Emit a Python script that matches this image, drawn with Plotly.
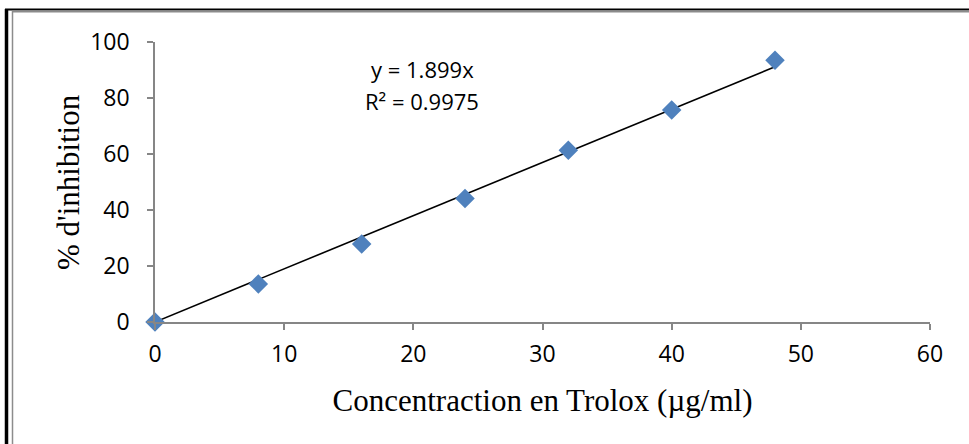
import plotly.graph_objects as go

# Trolox calibration data
concentration = [0, 8, 16, 24, 32, 40, 48]          # µg/ml
inhibition = [0, 13.6, 27.9, 44.1, 61.3, 75.7, 93.5]  # %
slope = 1.899
r_squared = 0.9975

x_ticks = [0, 10, 20, 30, 40, 50, 60]
y_ticks = [0, 20, 40, 60, 80, 100]

W, H = 969, 444
L, R, T, B = 155, 39, 42, 122

fig = go.Figure()

# linear trendline through the origin
fit_x = [0, max(concentration)]
fit_y = [slope * v for v in fit_x]
fig.add_trace(go.Scatter(x=fit_x, y=fit_y, mode="lines",
                         line=dict(color="black", width=1.6),
                         hoverinfo="skip", showlegend=False))

fig.add_trace(go.Scatter(x=concentration, y=inhibition, mode="markers",
                         marker=dict(symbol="diamond", size=15, color="#4F81BD",
                                     line=dict(width=0)),
                         cliponaxis=False, showlegend=False))

axis_font = dict(family="Open Sans, Noto Sans, sans-serif", size=23, color="black")
title_font = dict(family="Liberation Serif, Times New Roman, serif", size=31, color="black")


def px_x(p):
    return (p - L) / (W - L - R)


def px_y(p):
    return (H - B - p) / (H - T - B)


fig.update_xaxes(range=[0, 60], tickvals=x_ticks, showgrid=False, zeroline=False,
                 showline=True, linecolor="#868686", linewidth=1.5,
                 ticks="outside", ticklen=6, tickcolor="#868686", tickwidth=1.5,
                 tickfont=axis_font, ticklabelstandoff=5,
                 title=dict(text="Concentraction en Trolox (µg/ml)", font=title_font,
                            standoff=21))
fig.update_yaxes(range=[0, 100], tickvals=y_ticks, showgrid=False, zeroline=False,
                 showline=True, linecolor="#868686", linewidth=1.5,
                 ticks="outside", ticklen=6, tickcolor="#868686", tickwidth=1.5,
                 tickfont=axis_font, ticklabelstandoff=13)

# y-axis title placed as rotated text
fig.add_annotation(x=px_x(68), y=0.5, xref="paper", yref="paper", showarrow=False,
                   text="% d'inhibition", textangle=-90, font=title_font,
                   xanchor="center", yanchor="middle")

eq_font = dict(family="Open Sans, Noto Sans, sans-serif", size=22, color="black")
fig.add_annotation(x=20.7, y=90.5, xref="x", yref="y", showarrow=False,
                   text=f"y = {slope}x", font=eq_font)
fig.add_annotation(x=20.7, y=79, xref="x", yref="y", showarrow=False,
                   text=f"R² = {r_squared}", font=eq_font)

# outer frame: black edge with a grey inner line
frame = [
    (5, 9.5, W, 9.5, "black", 2),
    (6.5, 9, 6.5, H, "black", 3.5),
    (12, 11.5, W, 11.5, "#8c8c8c", 2),
    (12.5, 11, 12.5, H, "#8c8c8c", 1.5),
]
for x0, y0, x1, y1, c, w in frame:
    fig.add_shape(type="line", xref="paper", yref="paper",
                  x0=px_x(x0), y0=px_y(y0), x1=px_x(x1), y1=px_y(y1),
                  line=dict(color=c, width=w), layer="above")

fig.update_layout(width=W, height=H, margin=dict(l=L, r=R, t=T, b=B),
                  paper_bgcolor="white", plot_bgcolor="white")

fig.write_html("out.html")
